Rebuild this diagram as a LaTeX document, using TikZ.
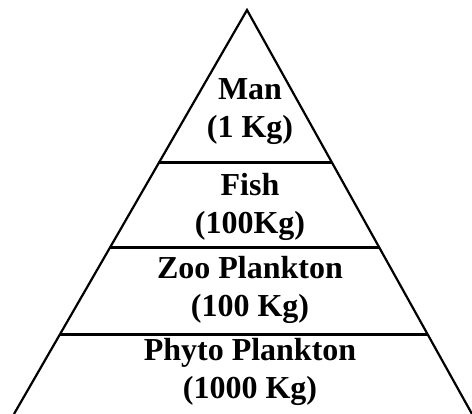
\documentclass[tikz,border=0pt]{standalone}
\usepackage{fontspec}
\setmainfont{Liberation Serif}
\usetikzlibrary{calc}

\begin{document}
\begin{tikzpicture}[
    x=1pt, y=-1pt,
    side/.style={line width=2.2pt, line join=miter},
    tier/.style={line width=3pt},
    level/.style={align=center, anchor=base, inner sep=0pt, font=\bfseries\fontsize{32}{38.4}\selectfont}
]
\useasboundingbox (0,0) rectangle (472,414);

\coordinate (apex) at (247,10);
\coordinate (baseL) at (14,414);
\coordinate (baseR) at (472,414);

% the pyramid
\draw[side] (baseL) -- (apex) -- (baseR);

% tiers
\draw[tier] ($(apex)!0.3787!(baseL)$) -- ($(apex)!0.3787!(baseR)$);
\draw[tier] ($(apex)!0.589!(baseL)$) -- ($(apex)!0.589!(baseR)$);
\draw[tier] ($(apex)!0.802!(baseL)$) -- ($(apex)!0.802!(baseR)$);

\node[level] (man) at (250,138) {Man\\(1 Kg)};
\node[level] (fish) at (250,234) {Fish\\(100Kg)};
\node[level] (zoo) at (250,317) {Zoo Plankton\\(100 Kg)};
\node[level] (phyto) at (250,399) {Phyto Plankton\\(1000 Kg)};
\end{tikzpicture}
\end{document}
